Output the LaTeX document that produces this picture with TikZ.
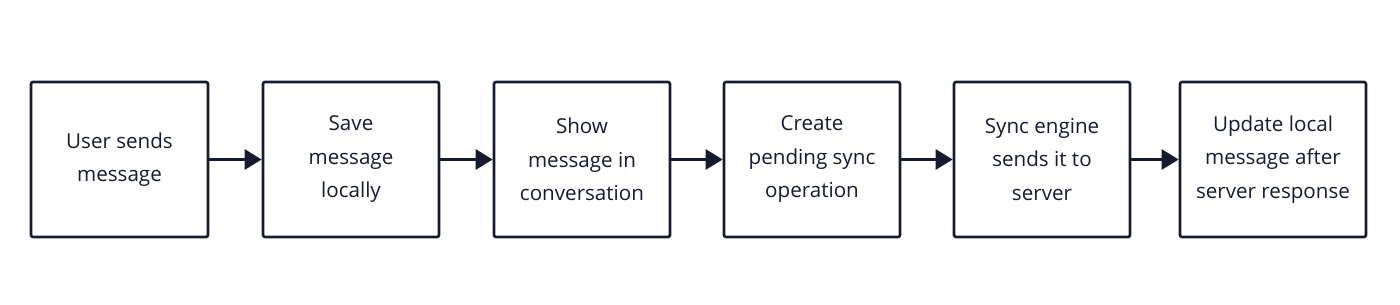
\documentclass[tikz,border=0pt]{standalone}
\usepackage{fontspec}
\setmainfont{Open Sans}
\usetikzlibrary{arrows.meta}
\definecolor{ink}{HTML}{161B2E}
\tikzset{
  x=1pt,y=1pt,
  stepbox/.style={draw=ink, line width=2.6pt, rounded corners=2pt, fill=white,
    minimum height=155pt, align=center, text=ink,
    font=\fontsize{20.6}{33.5}\selectfont, inner sep=0pt},
  flow/.style={draw=ink, line width=2.8pt, -{Triangle[length=17pt,width=20pt]}, shorten >=0pt}
}
\begin{document}
\begin{tikzpicture}
\useasboundingbox (0,0) rectangle (1400,305);
\node[stepbox, minimum width=177pt] (a) at (119.5,145.5) {User sends\\message};
\node[stepbox, minimum width=176pt] (b) at (351,145.5) {Save\\message\\locally};
\node[stepbox, minimum width=176pt] (c) at (582,145.5) {Show\\message in\\conversation};
\node[stepbox, minimum width=176pt] (d) at (812,145.5) {Create\\pending sync\\operation};
\node[stepbox, minimum width=176pt] (e) at (1042,145.5) {Sync engine\\sends it to\\server};
\node[stepbox, minimum width=186pt] (f) at (1273,145.5) {Update local\\message after\\server response};
\draw[flow] (a) -- (b);
\draw[flow] (b) -- (c);
\draw[flow] (c) -- (d);
\draw[flow] (d) -- (e);
\draw[flow] (e) -- (f);
\end{tikzpicture}
\end{document}
